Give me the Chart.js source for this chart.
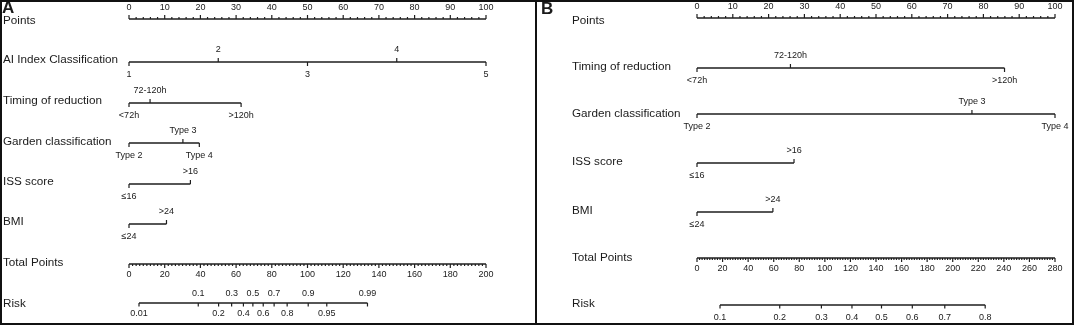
<!DOCTYPE html>
<html><head><meta charset="utf-8">
<script src="https://cdn.jsdelivr.net/npm/chart.js@4.4.1/dist/chart.umd.min.js"></script>
<style>
html,body{margin:0;padding:0;background:#fff;}
#wrap{position:relative;width:1074px;height:325px;overflow:hidden;}
canvas{position:absolute;left:0;top:0;}
#frame{position:absolute;left:0;top:0;width:1070px;height:321px;border:2px solid #111;pointer-events:none;}
#sep{position:absolute;left:535px;top:0;width:2px;height:325px;background:#111;}
</style></head>
<body>
<div id="wrap">
<canvas id="cA" width="1074" height="325" style="width:1074px;height:325px"></canvas>
<canvas id="cB" width="1074" height="325" style="width:1074px;height:325px"></canvas>
<div id="frame"></div><div id="sep"></div>
</div>
<script>
// ---------- DATA ----------
const pointsTickLabels = [0,10,20,30,40,50,60,70,80,90,100];

// Panel A
const A_aiLevels = ['1','2','3','4','5'];
const A_aiPoints = [0,25,50,75,100];
const A_timingLevels = ['<72h','72-120h','>120h'];
const A_timingPoints = [0,5.9,31.4];
const A_gardenLevels = ['Type 2','Type 3','Type 4'];
const A_gardenPoints = [0,15.1,19.7];
const A_issLevels = ['≤16','>16'];
const A_issPoints = [0,17.2];
const A_bmiLevels = ['≤24','>24'];
const A_bmiPoints = [0,10.5];
const A_totalTickLabels = [0,20,40,60,80,100,120,140,160,180,200];
const A_riskLabels = ['0.01','0.1','0.2','0.3','0.4','0.5','0.6','0.7','0.8','0.9','0.95','0.99'];
const A_riskTotalPoints = [5.6,38.8,50.2,57.5,64.1,69.4,75.2,81.3,88.6,100.4,110.8,133.6];

// Panel B
const B_timingLevels = ['<72h','72-120h','>120h'];
const B_timingPoints = [0,26.1,85.9];
const B_gardenLevels = ['Type 2','Type 3','Type 4'];
const B_gardenPoints = [0,76.8,100];
const B_issLevels = ['≤16','>16'];
const B_issPoints = [0,27.1];
const B_bmiLevels = ['≤24','>24'];
const B_bmiPoints = [0,21.2];
const B_totalTickLabels = [0,20,40,60,80,100,120,140,160,180,200,220,240,260,280];
const B_riskLabels = ['0.1','0.2','0.3','0.4','0.5','0.6','0.7','0.8'];
const B_riskTotalPoints = [18.0,64.7,97.3,121.2,144.3,168.4,193.8,225.4];

// ---------- LAYOUT / STYLE ----------
const W = 1074, H = 325;
const LINE = '#1e1e1e', TXT = '#1a1a1a';
const TITLE_FONT = '11.7px "Liberation Sans", Arial, sans-serif';
const TICK_FONT = '9px "Liberation Sans", Arial, sans-serif';
const LETTER_FONT = 'bold 17px "Liberation Sans", Arial, sans-serif';

function alt(n, startBelow){ const s=[]; for(let i=0;i<n;i++) s.push(((i%2===0)===startBelow)?'below':'above'); return s; }

const panelA = {
  id:'cA', letter:'A', letterX:2, letterY:8, titleX:3, xLeft:129, xRight:486, totalMax:200, minorTotal:2,
  rows:[
    {title:'Points', y:19, ty:21, kind:'points'},
    {title:'AI Index Classification', y:62, ty:60, kind:'cat', pts:A_aiPoints, labels:A_aiLevels, sides:alt(5,true)},
    {title:'Timing of reduction', y:103, ty:101, kind:'cat', pts:A_timingPoints, labels:A_timingLevels, sides:['below','above','below']},
    {title:'Garden classification', y:143, ty:142, kind:'cat', pts:A_gardenPoints, labels:A_gardenLevels, sides:['below','above','below']},
    {title:'ISS score', y:184, ty:182, kind:'cat', pts:A_issPoints, labels:A_issLevels, sides:['below','above']},
    {title:'BMI', y:224, ty:222, kind:'cat', pts:A_bmiPoints, labels:A_bmiLevels, sides:['below','above']},
    {title:'Total Points', y:264, ty:263, kind:'total', ticks:A_totalTickLabels},
    {title:'Risk', y:303, ty:304, kind:'risk', pts:A_riskTotalPoints, labels:A_riskLabels, sides:alt(12,true), above:-9.5, below:11}
  ]
};
const panelB = {
  id:'cB', letter:'B', letterX:541, letterY:9, titleX:572, xLeft:697, xRight:1055, totalMax:280, minorTotal:2,
  rows:[
    {title:'Points', y:18, ty:21, kind:'points'},
    {title:'Timing of reduction', y:68, ty:67, kind:'cat', pts:B_timingPoints, labels:B_timingLevels, sides:['below','above','below']},
    {title:'Garden classification', y:114, ty:114, kind:'cat', pts:B_gardenPoints, labels:B_gardenLevels, sides:['below','above','below']},
    {title:'ISS score', y:163, ty:162, kind:'cat', pts:B_issPoints, labels:B_issLevels, sides:['below','above']},
    {title:'BMI', y:212, ty:211, kind:'cat', pts:B_bmiPoints, labels:B_bmiLevels, sides:['below','above']},
    {title:'Total Points', y:258, ty:258, kind:'total', ticks:B_totalTickLabels},
    {title:'Risk', y:305, ty:304, kind:'risk', pts:B_riskTotalPoints, labels:B_riskLabels, sides:B_riskLabels.map(()=> 'below'), above:-10, below:13}
  ]
};

function buildDatasets(p){
  const ds = [];
  p.rows.forEach(r=>{
    let xs, axis='x';
    if(r.kind==='points'){ xs=[0,100]; }
    else if(r.kind==='cat'){ xs=[Math.min(...r.pts), Math.max(...r.pts)]; }
    else if(r.kind==='total'){ xs=[0,p.totalMax]; axis='xT'; }
    else { xs=[r.pts[0], r.pts[r.pts.length-1]]; axis='xT'; }
    ds.push({type:'line', xAxisID:axis, yAxisID:'y', data:xs.map(v=>({x:v,y:r.y})),
      borderColor:LINE, borderWidth:1.4, pointRadius:0, fill:false, tension:0});
  });
  return ds;
}

const nomoPlugin = {
  id:'nomo',
  afterDatasetsDraw(chart, args, opts){
    const p = opts.panel;
    const ctx = chart.ctx, sx = chart.scales.x, sxT = chart.scales.xT, sy = chart.scales.y;
    ctx.save();
    ctx.strokeStyle = LINE; ctx.fillStyle = TXT; ctx.lineWidth = 1.2;
    const tick = (px, py, len) => { ctx.beginPath(); ctx.moveTo(px, py); ctx.lineTo(px, py+len); ctx.stroke(); };
    // panel letter
    ctx.font = LETTER_FONT; ctx.textAlign='left'; ctx.textBaseline='middle';
    ctx.fillText(p.letter, p.letterX, p.letterY);
    p.rows.forEach(r=>{
      const py = sy.getPixelForValue(r.y);
      ctx.font = TITLE_FONT; ctx.textAlign='left'; ctx.textBaseline='middle';
      ctx.fillText(r.title, p.titleX, sy.getPixelForValue(r.ty));
      ctx.font = TICK_FONT; ctx.textAlign='center';
      if(r.kind==='points'){
        for(let v=0; v<=100; v+=2){
          const major = v%10===0;
          tick(sx.getPixelForValue(v), py, major?-4:-2);
        }
        pointsTickLabels.forEach(v=> ctx.fillText(String(v), sx.getPixelForValue(v), py-11.5));
      } else if(r.kind==='total'){
        for(let v=0; v<=p.totalMax+1e-9; v+=p.minorTotal){
          const major = Math.abs(v%20)<1e-9;
          tick(sxT.getPixelForValue(v), py, major?4:2);
        }
        r.ticks.forEach(v=> ctx.fillText(String(v), sxT.getPixelForValue(v), py+11));
      } else {
        const sc = r.kind==='risk' ? sxT : sx;
        r.pts.forEach((v,i)=>{
          const px = sc.getPixelForValue(v);
          const side = r.sides[i];
          if(r.kind==='risk') tick(px, py, 3.5);
          else tick(px, py, side==='above' ? -4 : 4);
          const off = side==='above' ? (r.above ?? -12) : (r.below ?? 12.5);
          ctx.fillText(r.labels[i], px, py+off);
        });
      }
    });
    ctx.restore();
  }
};

function makeChart(p){
  new Chart(document.getElementById(p.id), {
    type:'line',
    data:{ datasets: buildDatasets(p) },
    options:{
      responsive:false, animation:false, events:[],
      layout:{ padding:{ left:p.xLeft, right:W-p.xRight, top:0, bottom:0 } },
      plugins:{ legend:{display:false}, tooltip:{enabled:false}, nomo:{ panel:p } },
      scales:{
        x:{ type:'linear', min:0, max:100, display:false },
        xT:{ type:'linear', axis:'x', position:'bottom', min:0, max:p.totalMax, display:false },
        y:{ type:'linear', min:0, max:H, reverse:true, display:false }
      }
    },
    plugins:[nomoPlugin]
  });
}
makeChart(panelA);
makeChart(panelB);
</script>
</body></html>
